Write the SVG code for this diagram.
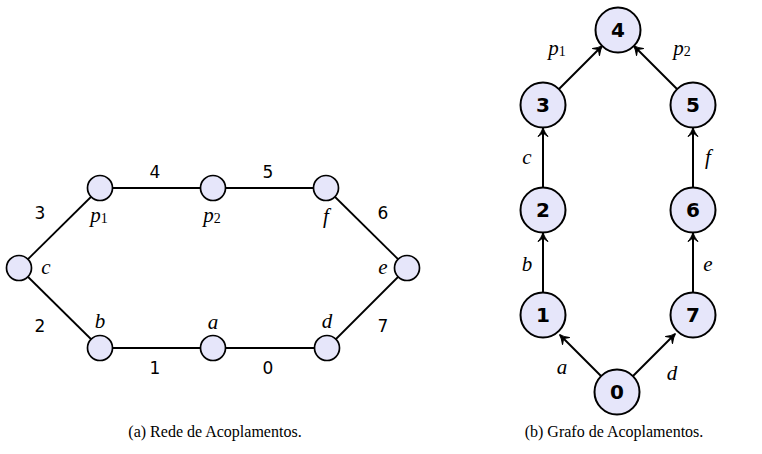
<svg xmlns="http://www.w3.org/2000/svg" width="762" height="454" viewBox="0 0 762 454">
<defs>
<marker id="arr" viewBox="-10 -6 12 12" refX="0" refY="0" markerWidth="12" markerHeight="12" markerUnits="userSpaceOnUse" orient="auto">
<path d="M0.5,0 C-3,-1 -6,-3 -8.5,-5 L-8,-4 C-6.5,-2 -5.5,-1 -5.5,0 C-5.5,1 -6.5,2 -8,4 L-8.5,5 C-6,3 -3,1 0.5,0 Z" fill="#000" stroke="#000" stroke-width="1" stroke-linejoin="round"/>
</marker>
<style>
.sn{fill:#e6e6fa;stroke:#000;stroke-width:1.7}
.bn{fill:#e6e6fa;stroke:#000;stroke-width:2}
.e{stroke:#000;stroke-width:1.8;fill:none}
.a{stroke:#000;stroke-width:2;fill:none;marker-end:url(#arr)}
.num{font-family:"DejaVu Sans","Liberation Sans",sans-serif;font-size:17px;text-anchor:middle;dominant-baseline:central}
.bnum{font-family:"DejaVu Sans","Liberation Sans",sans-serif;font-size:20px;font-weight:bold;text-anchor:middle;dominant-baseline:central}
.it{font-family:"Liberation Serif",serif;font-style:italic;font-size:21px;text-anchor:middle;dominant-baseline:central}
.sub{font-style:normal;font-size:14px}
.cap{font-family:"Liberation Serif",serif;font-size:16px;text-anchor:middle}
</style>
</defs>
<g id="connectors">
<line class="e" x1="100" y1="188" x2="326" y2="188"/>
<line class="e" x1="100" y1="348" x2="327" y2="348"/>
<line class="e" x1="19" y1="268" x2="100" y2="188"/>
<line class="e" x1="19" y1="268" x2="100" y2="348"/>
<line class="e" x1="407" y1="268" x2="326" y2="188"/>
<line class="e" x1="407" y1="268" x2="327" y2="348"/>
<line class="a" x1="559" y1="89" x2="602" y2="46"/>
<line class="a" x1="677" y1="89" x2="634" y2="46"/>
<line class="a" x1="543" y1="187" x2="543" y2="128"/>
<line class="a" x1="693" y1="187" x2="693" y2="128"/>
<line class="a" x1="543" y1="292" x2="543" y2="233"/>
<line class="a" x1="693" y1="292" x2="693" y2="233"/>
<line class="a" x1="601" y1="376" x2="560" y2="335"/>
<line class="a" x1="633" y1="376" x2="675" y2="334"/>
</g>
<g id="edge-labels">
<text class="num" x="155" y="172">4</text>
<text class="num" x="268" y="172">5</text>
<text class="num" x="40" y="213">3</text>
<text class="num" x="383" y="213">6</text>
<text class="num" x="40" y="326">2</text>
<text class="num" x="383" y="326">7</text>
<text class="num" x="155" y="368">1</text>
<text class="num" x="268" y="368">0</text>
<text class="it" x="557" y="48">p<tspan class="sub" dy="3">1</tspan></text>
<text class="it" x="682" y="48">p<tspan class="sub" dy="3">2</tspan></text>
<text class="it" x="527" y="157">c</text>
<text class="it" x="708" y="157">f</text>
<text class="it" x="527" y="264">b</text>
<text class="it" x="708" y="264">e</text>
<text class="it" x="562" y="367">a</text>
<text class="it" x="672" y="373">d</text>
</g>
<g id="node-p1"><circle class="sn" cx="100" cy="188" r="12.5"/><text class="it" x="99" y="215">p<tspan class="sub" dy="3">1</tspan></text></g>
<g id="node-p2"><circle class="sn" cx="213" cy="188" r="12.5"/><text class="it" x="212" y="215">p<tspan class="sub" dy="3">2</tspan></text></g>
<g id="node-f"><circle class="sn" cx="326" cy="188" r="12.5"/><text class="it" x="326" y="216">f</text></g>
<g id="node-c"><circle class="sn" cx="19" cy="268" r="12.5"/><text class="it" x="46" y="267">c</text></g>
<g id="node-e"><circle class="sn" cx="407" cy="268" r="12.5"/><text class="it" x="383" y="267">e</text></g>
<g id="node-b"><circle class="sn" cx="100" cy="348" r="12.5"/><text class="it" x="100" y="321">b</text></g>
<g id="node-a"><circle class="sn" cx="213" cy="348" r="12.5"/><text class="it" x="213" y="322">a</text></g>
<g id="node-d"><circle class="sn" cx="327" cy="348" r="12.5"/><text class="it" x="327" y="321">d</text></g>
<g id="node-4"><circle class="bn" cx="618" cy="30" r="22.5"/><text class="bnum" x="618" y="30">4</text></g>
<g id="node-3"><circle class="bn" cx="543" cy="105" r="22.5"/><text class="bnum" x="543" y="105">3</text></g>
<g id="node-5"><circle class="bn" cx="693" cy="105" r="22.5"/><text class="bnum" x="693" y="105">5</text></g>
<g id="node-2"><circle class="bn" cx="543" cy="210" r="22.5"/><text class="bnum" x="543" y="210">2</text></g>
<g id="node-6"><circle class="bn" cx="693" cy="210" r="22.5"/><text class="bnum" x="693" y="210">6</text></g>
<g id="node-1"><circle class="bn" cx="543" cy="315" r="22.5"/><text class="bnum" x="543" y="315">1</text></g>
<g id="node-7"><circle class="bn" cx="693" cy="315" r="22.5"/><text class="bnum" x="693" y="315">7</text></g>
<g id="node-0"><circle class="bn" cx="617" cy="392" r="22.5"/><text class="bnum" x="617" y="392">0</text></g>
<g id="captions">
<text class="cap" x="215" y="437">(a) Rede de Acoplamentos.</text>
<text class="cap" x="614" y="437">(b) Grafo de Acoplamentos.</text>
</g>
</svg>
